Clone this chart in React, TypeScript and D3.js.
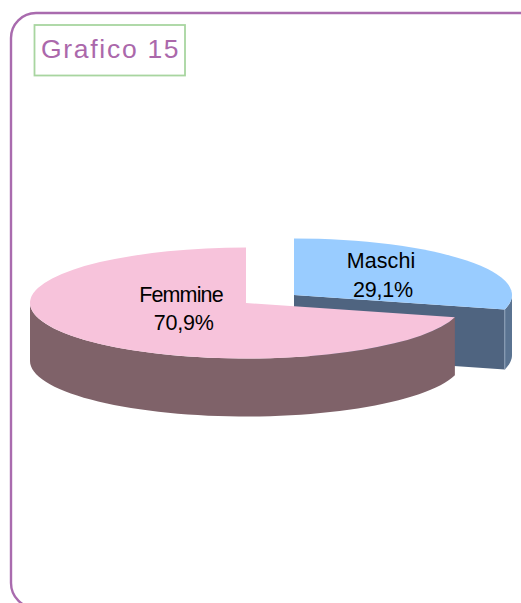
import React from "react";
import * as d3 from "d3";

const categories = ["Maschi", "Femmine"];
const shares = [29.1, 70.9];
const shareLabels = ["29,1%", "70,9%"];
const title = "Grafico 15";

const W = 521;
const H = 603;
const depths = [60, 58];
const centers = [
  { x: 294, y: 295, rx: 218, ry: 56.5 },
  { x: 246, y: 303, rx: 216, ry: 55.5 },
];
const topColors = ["#99CCFF", "#F7C3DB"];
const wallColors = ["#4F6480", "#7F6269"];
const outerWall = "#5A7391";
const nameStyle = [
  { x: 381, y: 268.3, spacing: 0.1 },
  { x: 181, y: 301.7, spacing: -0.85 },
];
const shareStyle = [
  { x: 383, y: 296.5, spacing: -0.2 },
  { x: 183.7, y: 330, spacing: -0.2 },
];

type C = { x: number; y: number; rx: number; ry: number };
const pt = (c: C, a: number): [number, number] => [
  c.x + c.rx * Math.sin(a),
  c.y - c.ry * Math.cos(a),
];
const line = d3.line<[number, number]>();

function band(c: C, a0: number, a1: number, depth: number) {
  const top = d3.range(0, 61).map((i) => pt(c, a0 + ((a1 - a0) * i) / 60));
  const bottom = top.slice().reverse().map(([x, y]) => [x, y + depth] as [number, number]);
  return line([...top, ...bottom]) + "Z";
}

export default function App() {
  const arcs = d3.pie<number>().sort(null)(shares);
  const arc = d3.arc<d3.PieArcDatum<number>>().innerRadius(0);
  const tip = arcs[0].endAngle;
  const [blue, pink] = centers;
  const apexB: [number, number] = [blue.x, blue.y];
  const tipB = pt(blue, tip);
  const cut = line([
    apexB,
    tipB,
    [tipB[0], tipB[1] + depths[0]],
    [apexB[0], apexB[1] + depths[0]],
  ]) + "Z";

  return (
    <svg
      width={W}
      height={H}
      viewBox={`0 0 ${W} ${H}`}
      style={{ position: "absolute", left: 0, top: 0, display: "block" }}
      fontFamily="'Liberation Sans', Arial, sans-serif"
    >
      <rect x={11} y={13} width={W + 40} height={595} rx={25} ry={25} fill="#fff" stroke="#A96BAE" strokeWidth={2.4} />
      <rect x={34.5} y={25} width={150.5} height={50.5} fill="#fff" stroke="#A8D5A0" strokeWidth={1.8} />
      <text x={41} y={58.3} fontSize={26.5} letterSpacing={1.7} fill="#AB68AB">{title}</text>

      {/* Maschi */}
      <path d={band(blue, Math.PI / 2, tip, depths[0])} fill={outerWall} />
      <path d={cut} fill={wallColors[0]} />
      <line x1={tipB[0]} y1={tipB[1]} x2={tipB[0]} y2={tipB[1] + depths[0]} stroke="#9DB0C6" strokeWidth={0.8} />
      <path
        d={arc({ ...arcs[0], outerRadius: blue.rx } as any) ?? ""}
        transform={`translate(${blue.x},${blue.y}) scale(1,${blue.ry / blue.rx})`}
        fill={topColors[0]}
      />

      {/* Femmine */}
      <path d={band(pink, tip, (3 * Math.PI) / 2, depths[1])} fill={wallColors[1]} />
      <path
        d={arc({ ...arcs[1], outerRadius: pink.rx } as any) ?? ""}
        transform={`translate(${pink.x},${pink.y}) scale(1,${pink.ry / pink.rx})`}
        fill={topColors[1]}
      />

      {categories.map((name, i) => (
        <g key={name} fontSize={21.5} fill="#000" textAnchor="middle">
          <text x={nameStyle[i].x} y={nameStyle[i].y} letterSpacing={nameStyle[i].spacing}>{name}</text>
          <text x={shareStyle[i].x} y={shareStyle[i].y} letterSpacing={shareStyle[i].spacing}>{shareLabels[i]}</text>
        </g>
      ))}
    </svg>
  );
}
